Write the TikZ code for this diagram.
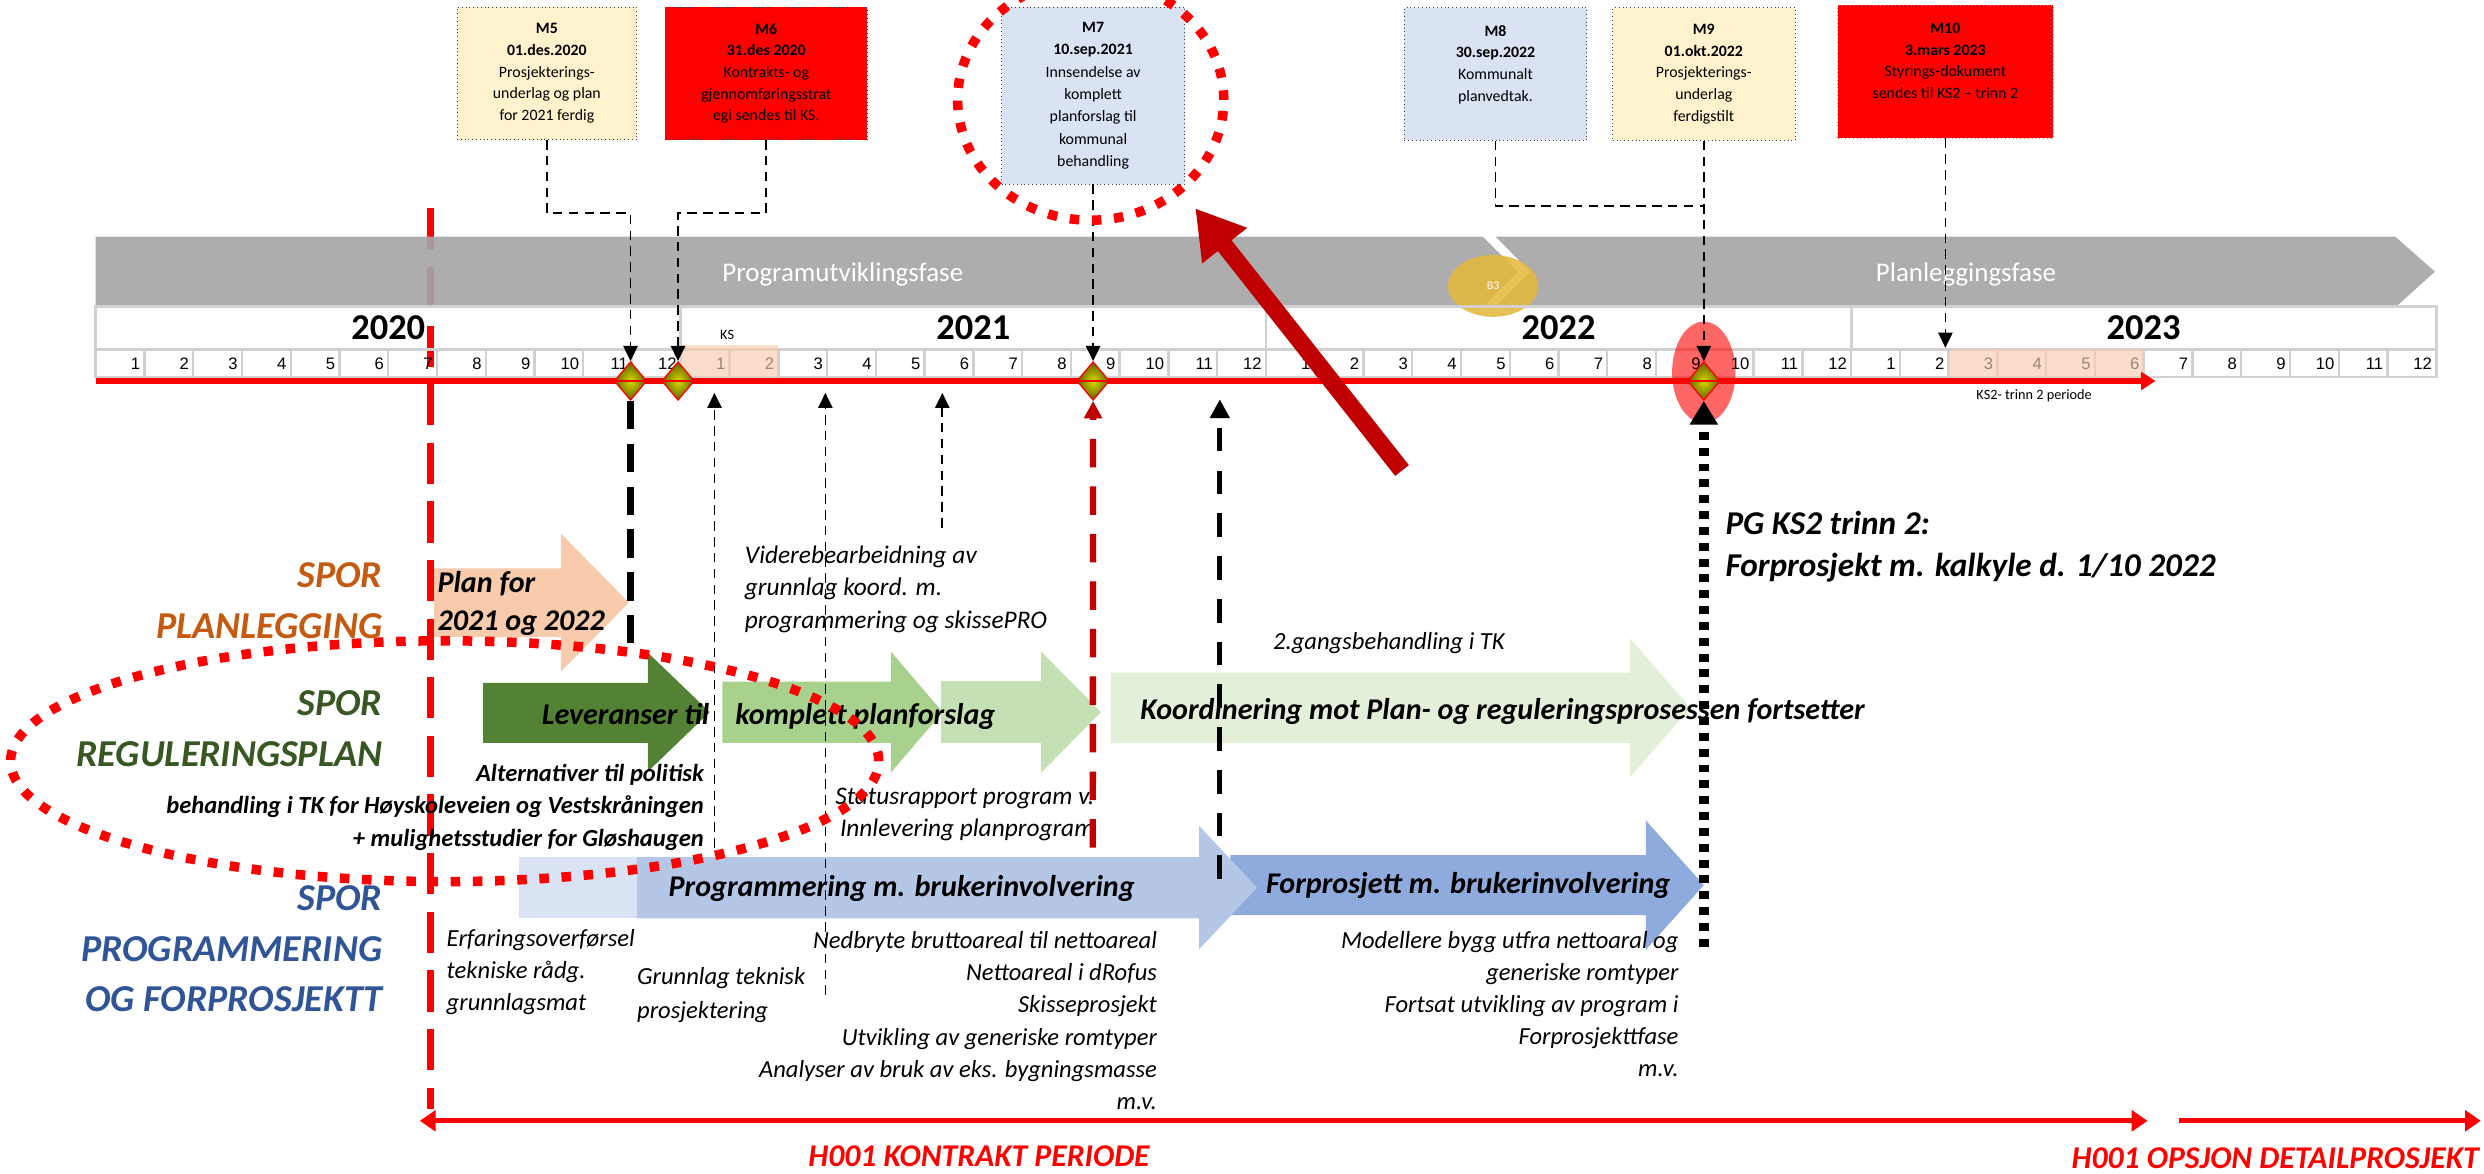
\documentclass[tikz,border=0pt]{standalone}
\usepackage{fontspec}
\setmainfont{Carlito}
\newfontfamily\arialfont{Liberation Sans}
\usetikzlibrary{shapes.geometric,arrows.meta}

\definecolor{bandgray}{RGB}{166,166,166}
\definecolor{framegray}{RGB}{210,208,208}
\definecolor{peach}{RGB}{248,203,173}
\definecolor{paleyellow}{RGB}{255,242,204}
\definecolor{paleblue}{RGB}{218,227,243}
\definecolor{midblue}{RGB}{180,199,231}
\definecolor{deepblue}{RGB}{143,170,220}
\definecolor{leafgreen}{RGB}{84,130,53}
\definecolor{midgreen}{RGB}{169,209,142}
\definecolor{softgreen}{RGB}{197,224,180}
\definecolor{palegreen}{RGB}{226,240,217}
\definecolor{spororange}{RGB}{197,90,17}
\definecolor{sporgreen}{RGB}{56,87,35}
\definecolor{sporblue}{RGB}{47,85,151}
\definecolor{darkred}{RGB}{192,0,0}
\definecolor{goldb}{RGB}{228,184,60}

\tikzset{
  msbox/.style={draw=black!75, dotted, align=center, inner sep=0pt, anchor=north, font=\fontsize{10}{13.7}\selectfont},
  msline/.style={line width=1.1pt, dash pattern=on 6pt off 4pt, -{Triangle[length=9.5pt,width=9pt]}},
  monthlbl/.style={font=\arialfont\fontsize{10.5}{12}\selectfont, anchor=east, inner sep=0pt},
  yearlbl/.style={font=\bfseries\fontsize{23}{26}\selectfont, inner sep=0pt},
  phasetxt/.style={text=white, font=\fontsize{17}{20}\selectfont, inner sep=0pt},
  milestone/.style={diamond, draw=red, line width=0.8pt, inner color=yellow!85!black, outer color=olive!75!black, minimum width=20.6pt, minimum height=24.4pt, inner sep=0pt},
  lanelbl/.style={font=\bfseries\itshape\fontsize{24}{32.5}\selectfont, align=right, anchor=east, inner sep=0pt},
  arrowtxt/.style={font=\bfseries\itshape\fontsize{19}{23.6}\selectfont, inner sep=0pt},
  notetxt/.style={font=\itshape\fontsize{15.5}{20.3}\selectfont, inner sep=0pt},
  notebold/.style={font=\bfseries\itshape\fontsize{15.5}{20.5}\selectfont, inner sep=0pt},
  reddot/.style={red, line width=6pt, dash pattern=on 6pt off 8pt}
}

\begin{document}
\begin{tikzpicture}[x=1pt, y=-1pt]
\useasboundingbox (0,0) rectangle (1568,741);

% start of contract
\coordinate (kstop) at (272,131.5);
\coordinate (ksbot) at (272,700);
\draw[red, line width=4.5pt, dash pattern=on 26pt off 11pt] (kstop) -- (ksbot);

% phases
\fill[bandgray, opacity=0.92] (60.4,149.4) -- (936,149.4) -- (958,171.5) -- (936,194) -- (60.4,194) -- cycle;
\fill[bandgray, opacity=0.92] (944,149.4) -- (1512,149.4) -- (1537,171.5) -- (1512,194) -- (944,194) -- (966,171.5) -- cycle;
\node[phasetxt] (progfase) at (532,173) {Programutviklingsfase};
\node[phasetxt] (planfase) at (1241,173) {Planleggingsfase};
\node[ellipse, fill=goldb, fill opacity=0.88, text opacity=1, minimum width=57pt, minimum height=39pt, inner sep=0pt, text=white, font=\fontsize{7.5}{9}\selectfont] (b3) at (942.5,180.5) {B3};

% years and months
\draw[framegray, line width=1.8pt] (60.4,193.6) rectangle (1537.8,238);
\draw[framegray, line width=1.8pt] (60.4,220.4) -- (1537.8,220.4);
\foreach \i in {1,...,47}
  \draw[framegray, line width=1.5pt] ({60.4+\i*30.78},220.4) -- ({60.4+\i*30.78},238);
\foreach \i in {1,2,3}
  \draw[framegray, line width=1.8pt] ({60.4+\i*369.36},193.6) -- ({60.4+\i*369.36},220.4);
\node[ellipse, fill=red, fill opacity=0.6, minimum width=40pt, minimum height=64pt, inner sep=0pt] (m9ring) at (1075.5,235) {};
\foreach \yr [count=\k from 0] in {2020,2021,2022,2023}{
  \node[yearlbl] (y\yr) at ({60.4+(\k*12+6)*30.78},207) {\yr};
  \foreach \m in {1,...,12}
    \node[monthlbl] (mon\k-\m) at ({60.4+(\k*12+\m)*30.78-2.5},229.5) {\m};
}
\fill[peach, fill opacity=0.65] (429.8,218) rectangle (491.3,238);
\fill[peach, fill opacity=0.65] (1230,220.4) rectangle (1353.2,238);
\node[font=\fontsize{9}{10}\selectfont, inner sep=0pt] (kslbl) at (459,211.5) {KS};
\node[font=\fontsize{9}{10}\selectfont, inner sep=0pt] (ks2lbl) at (1284,250) {KS2- trinn 2 periode};

\coordinate (tlstart) at (60.4,240.5);
\coordinate (tlend) at (1360.6,240.5);
\draw[red, line width=3.4pt, -{Triangle[length=9pt,width=11pt]}] (tlstart) -- (tlend);

% lanes
\fill[peach] (274,358.7) -- (354,358.7) -- (354,336.7) -- (397,380.4) -- (354,424) -- (354,402) -- (274,402) -- cycle;
\fill[leafgreen] (305,431) -- (409,431) -- (409,412) -- (448,449.5) -- (409,487) -- (409,469) -- (305,469) -- cycle;
\fill[midgreen] (456,430.3) -- (562.5,430.3) -- (562.5,411.4) -- (595,449.5) -- (562.5,487.5) -- (562.5,469) -- (456,469) -- cycle;
\fill[softgreen] (594,430) -- (657,430) -- (657,411) -- (695,449.5) -- (657,488) -- (657,469) -- (594,469) -- cycle;
\fill[palegreen] (701,424.6) -- (1029,424.6) -- (1029,403) -- (1067,446.8) -- (1029,490.6) -- (1029,469) -- (701,469) -- cycle;
\fill[deepblue] (776.6,539.8) -- (1039,539.8) -- (1039,518) -- (1075.5,558.7) -- (1039,599.4) -- (1039,577.7) -- (776.6,577.7) -- cycle;
\fill[midblue] (402,541) -- (757,541) -- (757,521.4) -- (793.5,560.3) -- (757,599.2) -- (757,579.7) -- (402,579.7) -- cycle;
\fill[paleblue] (327.5,541) rectangle (402,579.7);

\node[lanelbl, text=spororange] (sporplan) at (241.5,379.3) {SPOR\\PLANLEGGING};
\node[lanelbl, text=sporgreen] (sporreg) at (241.5,459.9) {SPOR\\REGULERINGSPLAN};
\node[lanelbl, text=sporblue, font=\bfseries\itshape\fontsize{24}{32}\selectfont] (sporprog) at (241.5,599) {SPOR\\PROGRAMMERING\\OG FORPROSJEKTT};

\node[arrowtxt, anchor=west, align=left] (plantxt) at (276,381) {Plan for\\2021 og 2022};
\node[arrowtxt, anchor=east] (levtxt) at (448,451) {Leveranser til};
\node[arrowtxt, anchor=west] (komptxt) at (464,452.4) {komplett planforslag};
\node[arrowtxt, anchor=west] (koordtxt) at (719.7,449.3) {Koordinering mot Plan- og reguleringsprosessen fortsetter};
\node[arrowtxt, anchor=west] (progtxt) at (421.9,560.8) {Programmering m. brukerinvolvering};
\node[arrowtxt, anchor=west] (forptxt) at (799,558.9) {Forprosjett m. brukerinvolvering};
\node[arrowtxt, anchor=west, align=left, font=\bfseries\itshape\fontsize{21}{26}\selectfont] (pgtxt) at (1089,345) {PG KS2 trinn 2:\\Forprosjekt m. kalkyle d. 1/10 2022};

\node[notetxt, anchor=west, align=left, font=\itshape\fontsize{16}{20.5}\selectfont] (vidtxt) at (470,372) {Viderebearbeidning av\\grunnlag koord. m.\\programmering og skissePRO};
\node[notetxt, anchor=west] (tktxt) at (803.5,406) {2.gangsbehandling i TK};
\node[notetxt, anchor=east, align=right, font=\itshape\fontsize{16}{20}\selectfont] (statustxt) at (691,514) {Statusrapport program v.\\Innlevering planprogram};
\node[notebold, anchor=east, align=right] (alttxt) at (444.5,509.5) {Alternativer til politisk\\behandling i TK for Høyskoleveien og Vestskråningen\\+ mulighetsstudier for Gløshaugen};
\node[notetxt, anchor=west, align=left] (erftxt) at (281.8,613.4) {Erfaringsoverførsel\\tekniske rådg.\\grunnlagsmat};
\node[notetxt, anchor=west, align=left, font=\itshape\fontsize{15.5}{21.4}\selectfont] (grtxt) at (402,628.3) {Grunnlag teknisk\\prosjektering};
\node[notetxt, anchor=east, align=right] (nedtxt) at (730.5,644.2) {Nedbryte bruttoareal til nettoareal\\Nettoareal i dRofus\\Skisseprosjekt\\Utvikling av generiske romtyper\\Analyser av bruk av eks. bygningsmasse\\m.v.};
\node[notetxt, anchor=east, align=right] (modtxt) at (1059.7,633.9) {Modellere bygg utfra nettoaral og\\generiske romtyper\\Fortsat utvikling av program i\\Forprosjekttfase\\m.v.};

% contract periods
\coordinate (kpleft) at (265,707.5);
\coordinate (kpright) at (1355.6,707.5);
\coordinate (opleft) at (1375.6,707.5);
\coordinate (opright) at (1566,707.5);
\draw[red, line width=3pt, {Triangle[length=10pt,width=13pt]}-{Triangle[length=10pt,width=13pt]}] (kpleft) -- (kpright);
\draw[red, line width=3pt, -{Triangle[length=10pt,width=13pt]}] (opleft) -- (opright);
\node[font=\bfseries\itshape\fontsize{20}{24}\selectfont, text=red, inner sep=0pt] (kontrakt) at (618,730) {H001 KONTRAKT PERIODE};
\node[font=\bfseries\itshape\fontsize{20}{24}\selectfont, text=red, inner sep=0pt, anchor=east] (opsjon) at (1565,731) {H001 OPSJON DETAILPROSJEKT};

% milestones on the time line
\node[milestone] (d5) at (398,240.5) {};
\node[milestone] (d6) at (428,240.5) {};
\node[milestone] (d7) at (690,240.5) {};
\node[milestone] (d9) at (1075.5,240.5) {};
\foreach \d in {d5,d6,d7,d9}
  \draw[red, line width=0.8pt] (\d.west) -- (\d.east);

% links from below
\coordinate (altfoot) at (451,535);
\coordinate (alttip) at (451,248);
\coordinate (grfoot) at (521,628);
\coordinate (grtip) at (521,248);
\coordinate (vidfoot) at (594.8,333);
\coordinate (vidtip) at (594.8,248);
\coordinate (statusfoot) at (689.8,535);
\coordinate (tkfoot) at (770,555);
\coordinate (tktip) at (770,252);
\coordinate (pgfoot) at (1075.5,597.6);
\coordinate (m5foot) at (398,408);
\draw[msline] (altfoot) -- (alttip);
\draw[msline] (grfoot) -- (grtip);
\draw[msline] (vidfoot) -- (vidtip);
\draw[darkred, line width=4pt, dash pattern=on 18pt off 12pt, -{Triangle[length=11pt,width=11pt]}] (statusfoot) -- (d7.south);
\draw[line width=3pt, dash pattern=on 15pt off 12pt, -{Triangle[length=12pt,width=12pt]}] (tkfoot) -- (tktip);
\draw[line width=6.5pt, dash pattern=on 5pt off 5pt, -{Triangle[length=15pt,width=17pt]}] (pgfoot) -- (d9.south);
\draw[line width=4pt, dash pattern=on 18pt off 9pt] (d5.south) -- (m5foot);

% milestone boxes
\node[msbox, fill=paleyellow, minimum width=113.5pt, minimum height=83.6pt] (m5box) at (345.2,4.4) {\textbf{M5}\\\textbf{01.des.2020}\\Prosjekterings-\\underlag og plan\\for 2021 ferdig};
\node[msbox, fill=red, minimum width=127.5pt, minimum height=83.6pt] (m6box) at (483.7,4.4) {\textbf{M6}\\\textbf{31.des 2020}\\Kontrakts- og\\gjennomføringsstrat\\egi sendes til KS.};
\node[msbox, fill=paleblue, minimum width=115.5pt, minimum height=111.6pt, font=\fontsize{10}{14.1}\selectfont] (m7box) at (690,4.4) {\textbf{M7}\\\textbf{10.sep.2021}\\Innsendelse av\\komplett\\planforslag til\\kommunal\\behandling};
\node[msbox, fill=paleblue, minimum width=115pt, minimum height=83.8pt] (m8box) at (944,4.6) {\textbf{M8}\\\textbf{30.sep.2022}\\Kommunalt\\planvedtak.\\~};
\node[msbox, fill=paleyellow, minimum width=115pt, minimum height=83.8pt] (m9box) at (1075.5,4.6) {\textbf{M9}\\\textbf{01.okt.2022}\\Prosjekterings-\\underlag\\ferdigstilt};
\node[msbox, draw=red!60, fill=red, minimum width=136pt, minimum height=84pt] (m10box) at (1228,3) {\textbf{M10}\\\textbf{3.mars 2023}\\Styrings-dokument\\sendes til KS2 -- trinn 2\\~};

\coordinate (m5turn) at (398,134.6);
\coordinate (m6turn) at (428,134.6);
\coordinate (m9turn) at (1075.5,130);
\coordinate (ks2start) at (1228,219.5);
\draw[msline] (m5box.south) |- (m5turn) -- (d5.north);
\draw[msline] (m6box.south) |- (m6turn) -- (d6.north);
\draw[msline] (m7box.south) -- (d7.north);
\draw[msline, -] (m8box.south) |- (m9turn);
\draw[msline] (m9box.south) -- (d9.north);
\draw[msline] (m10box.south) -- (ks2start);

% highlights
\coordinate (bigtail) at (885,297);
\coordinate (bighead) at (754.5,131.5);
\draw[darkred, line width=11pt, -{Triangle[length=30pt,width=34pt]}] (bigtail) -- (bighead);
\draw[reddot] (688.5,63) ellipse [x radius=84pt, y radius=76pt];
\draw[reddot] (280.7,480.5) ellipse [x radius=274pt, y radius=76pt];
\end{tikzpicture}
\end{document}
